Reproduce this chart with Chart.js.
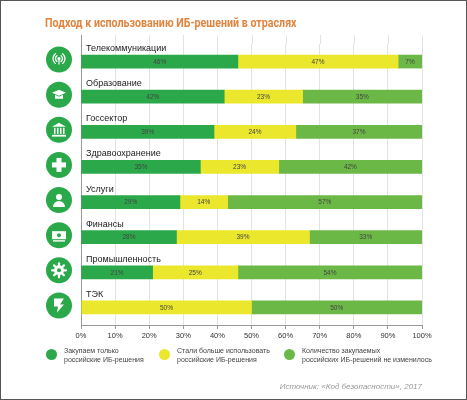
<!DOCTYPE html>
<html>
<head>
<meta charset="utf-8">
<script src="https://cdn.jsdelivr.net/npm/chart.js@4.4.1/dist/chart.umd.min.js"></script>
<style>
  html, body { margin: 0; padding: 0; background: #fff; }
  #wrap { position: relative; width: 467px; height: 400px; box-sizing: border-box; border: 1px solid #555; overflow: hidden; }
  #chart { position: absolute; left: -1px; top: -1px; }
  .title { position: absolute; left: 44px; top: 15px; font: bold 12px "Roboto", sans-serif; color: #e0853f; white-space: nowrap; transform: scaleX(0.89); transform-origin: left center; }
  .leg { position: absolute; top: 345px; font: 7px "Liberation Sans", Arial, sans-serif; color: #444; line-height: 9px; }
  .leg i { position: absolute; left: -18px; top: 3px; width: 11px; height: 11px; border-radius: 50%; }
  .src { position: absolute; right: 44px; top: 381px; font: italic 8px "Liberation Sans", Arial, sans-serif; color: #999; }
</style>
</head>
<body>
<div id="wrap">
  <canvas id="chart" width="467" height="400"></canvas>
  <div class="title">Подход к использованию ИБ-решений в отраслях</div>
  <div class="leg" style="left:63px"><i style="background:#2ba84a"></i>Закупаем только<br>российские ИБ-решения</div>
  <div class="leg" style="left:176px"><i style="background:#eae72c"></i>Стали больше использовать<br>российские ИБ-решения</div>
  <div class="leg" style="left:301px"><i style="background:#6cb846"></i>Количество закупаемых<br>российских ИБ-решений не изменилось</div>
  <div class="src">Источник: «Код безопасности», 2017</div>
</div>
<script>
// data
const sectors = ['Телекоммуникации', 'Образование', 'Госсектор', 'Здравоохранение',
                 'Услуги', 'Финансы', 'Промышленность', 'ТЭК'];
const onlyRussian = [46, 42, 39, 35, 29, 28, 21, 0];
const moreRussian = [47, 23, 24, 23, 14, 39, 25, 50];
const unchanged   = [7, 35, 37, 42, 57, 33, 54, 50];
const xTicks = [0, 10, 20, 30, 40, 50, 60, 70, 80, 90, 100];

const seriesNames = ['Закупаем только российские ИБ-решения',
                     'Стали больше использовать российские ИБ-решения',
                     'Количество закупаемых российских ИБ-решений не изменилось'];
const colors = ['#2ba84a', '#eae72c', '#6cb846'];
const iconColor = '#2ba84a';
const gridTop = 35;

// little white pictograms inside the green circles
function drawIcon(ctx, i, x, y) {
  ctx.save();
  ctx.strokeStyle = '#fff';
  ctx.fillStyle = '#fff';
  ctx.lineWidth = 1.3;
  ctx.lineCap = 'round';
  if (i === 0) { // antenna
    ctx.beginPath(); ctx.arc(x, y - 1, 1.6, 0, Math.PI * 2); ctx.fill();
    ctx.fillRect(x - 0.6, y, 1.2, 5);
    [3.5, 6].forEach(r => {
      ctx.beginPath(); ctx.arc(x, y - 1, r, Math.PI * 0.7, Math.PI * 1.3); ctx.stroke();
      ctx.beginPath(); ctx.arc(x, y - 1, r, -Math.PI * 0.3, Math.PI * 0.3); ctx.stroke();
    });
  } else if (i === 1) { // graduation cap
    ctx.beginPath();
    ctx.moveTo(x - 7, y - 2); ctx.lineTo(x, y - 5); ctx.lineTo(x + 7, y - 2); ctx.lineTo(x, y + 1);
    ctx.closePath(); ctx.fill();
    ctx.beginPath();
    ctx.moveTo(x - 4, y); ctx.lineTo(x - 4, y + 4); ctx.lineTo(x + 4, y + 4); ctx.lineTo(x + 4, y);
    ctx.lineTo(x, y + 2); ctx.closePath(); ctx.fill();
  } else if (i === 2) { // building
    ctx.beginPath(); ctx.moveTo(x - 7, y - 3); ctx.lineTo(x, y - 7); ctx.lineTo(x + 7, y - 3); ctx.closePath(); ctx.fill();
    [-5, -2, 1, 4].forEach(dx => ctx.fillRect(x + dx, y - 2, 1.5, 6));
    ctx.fillRect(x - 7, y + 5, 14, 1.8);
  } else if (i === 3) { // medical cross
    ctx.fillRect(x - 2.5, y - 7, 5, 14);
    ctx.fillRect(x - 7, y - 2.5, 14, 5);
  } else if (i === 4) { // person
    ctx.beginPath(); ctx.arc(x, y - 3, 3, 0, Math.PI * 2); ctx.fill();
    ctx.beginPath(); ctx.arc(x, y + 7, 6, Math.PI, 0); ctx.fill();
  } else if (i === 5) { // banknotes
    ctx.fillRect(x - 7, y - 4, 14, 8);
    ctx.fillStyle = iconColor;
    ctx.beginPath(); ctx.arc(x, y, 2, 0, Math.PI * 2); ctx.fill();
    ctx.fillStyle = '#fff';
    ctx.fillRect(x - 6, y + 5, 12, 1.4);
  } else if (i === 6) { // gear
    ctx.lineWidth = 2.2;
    for (let k = 0; k < 8; k++) {
      const a = k * Math.PI / 4;
      ctx.beginPath();
      ctx.moveTo(x + Math.cos(a) * 4, y + Math.sin(a) * 4);
      ctx.lineTo(x + Math.cos(a) * 7, y + Math.sin(a) * 7);
      ctx.stroke();
    }
    ctx.beginPath(); ctx.arc(x, y, 5, 0, Math.PI * 2); ctx.fill();
    ctx.fillStyle = iconColor;
    ctx.beginPath(); ctx.arc(x, y, 2, 0, Math.PI * 2); ctx.fill();
  } else { // energy
    ctx.beginPath();
    ctx.moveTo(x - 5, y - 7); ctx.lineTo(x + 5, y - 7); ctx.lineTo(x + 1, y - 1);
    ctx.lineTo(x + 5, y - 1); ctx.lineTo(x - 2, y + 7); ctx.lineTo(x - 1, y + 1);
    ctx.lineTo(x - 5, y + 1); ctx.closePath(); ctx.fill();
  }
  ctx.restore();
}

const decorPlugin = {
  id: 'decor',
  beforeDatasetsDraw(chart) {
    const { ctx, chartArea, scales } = chart;
    ctx.save();
    // extend vertical grid lines above the plot area
    ctx.strokeStyle = '#e3e3e3';
    ctx.lineWidth = 1;
    xTicks.forEach(v => {
      const x = Math.round(scales.x.getPixelForValue(v)) + 0.5;
      ctx.beginPath(); ctx.moveTo(x, gridTop); ctx.lineTo(x, chartArea.top); ctx.stroke();
    });
    // left axis line
    ctx.strokeStyle = '#999';
    const lx = Math.round(chartArea.left) + 0.5;
    ctx.beginPath(); ctx.moveTo(lx, gridTop); ctx.lineTo(lx, chartArea.bottom + 4); ctx.stroke();
    ctx.restore();
  },
  afterDatasetsDraw(chart) {
    const { ctx, chartArea } = chart;
    ctx.save();
    // value labels in the middle of each segment
    ctx.font = '6.5px "Liberation Sans", Arial, sans-serif';
    ctx.fillStyle = '#444';
    ctx.textAlign = 'center';
    ctx.textBaseline = 'middle';
    chart.data.datasets.forEach((ds, di) => {
      chart.getDatasetMeta(di).data.forEach((bar, i) => {
        const v = ds.data[i];
        if (!v) return;
        ctx.fillText(v + '%', (bar.x + bar.base) / 2, bar.y + 0.5);
      });
    });
    // sector names above the bars, icons to the left
    const bars = chart.getDatasetMeta(0).data;
    ctx.font = '9px "Liberation Sans", Arial, sans-serif';
    ctx.fillStyle = '#222';
    ctx.textAlign = 'left';
    bars.forEach((bar, i) => {
      ctx.fillText(sectors[i], chartArea.left + 5, bar.y - 13);
      ctx.fillStyle = iconColor;
      ctx.beginPath(); ctx.arc(59, bar.y - 2, 13, 0, Math.PI * 2); ctx.fill();
      drawIcon(ctx, i, 59, bar.y - 2);
      ctx.fillStyle = '#222';
    });
    ctx.restore();
  }
};

new Chart(document.getElementById('chart'), {
  type: 'bar',
  data: {
    labels: sectors,
    datasets: [onlyRussian, moreRussian, unchanged].map((d, i) => ({
      label: seriesNames[i],
      data: d,
      backgroundColor: colors[i],
      borderWidth: 0,
      barThickness: 13
    }))
  },
  options: {
    indexAxis: 'y',
    responsive: false,
    animation: false,
    layout: { padding: { left: 81, right: 45, top: 44, bottom: 58 } },
    plugins: { legend: { display: false }, tooltip: { enabled: false } },
    scales: {
      x: {
        stacked: true,
        min: 0, max: 100,
        afterBuildTicks: axis => { axis.ticks = xTicks.map(v => ({ value: v })); },
        grid: { color: '#e3e3e3', tickLength: 4, tickColor: '#999' },
        border: { color: '#999' },
        ticks: {
          padding: 2,
          color: '#333',
          font: { size: 7.5, family: '"Liberation Sans", Arial, sans-serif' },
          callback: v => v + '%'
        }
      },
      y: { stacked: true, display: false }
    }
  },
  plugins: [decorPlugin]
});
</script>
</body>
</html>
